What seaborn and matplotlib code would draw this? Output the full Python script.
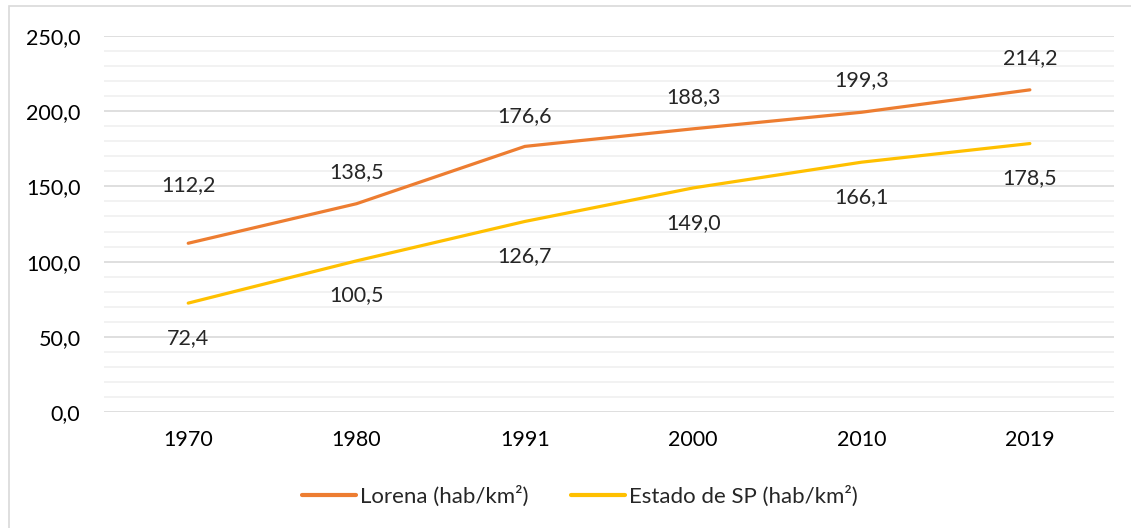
import matplotlib
matplotlib.use('Agg')
from matplotlib import pyplot as plt
from matplotlib.patches import Rectangle
from matplotlib.ticker import MultipleLocator, FuncFormatter
import seaborn as sns
import pandas as pd

# dados
anos = ['1970', '1980', '1991', '2000', '2010', '2019']
lorena = [112.2, 138.5, 176.6, 188.3, 199.3, 214.2]
estado_sp = [72.4, 100.5, 126.7, 149.0, 166.1, 178.5]
series = ['Lorena (hab/km²)', 'Estado de SP (hab/km²)']
cores = ['#ED7D31', '#FFC000']

df = pd.DataFrame({'ano': anos * 2,
                   'valor': lorena + estado_sp,
                   'serie': [series[0]] * len(anos) + [series[1]] * len(anos)})

sns.set_style('white')
plt.rcParams['font.family'] = ['Lato', 'DejaVu Sans']
fs = 15.5

fig = plt.figure(figsize=(11.31, 5.28), dpi=100)
ax = fig.add_axes([0.092, 0.2197, 0.893, 0.7121])

sns.lineplot(data=df, x='ano', y='valor', hue='serie', palette=cores,
             linewidth=2.3, sort=False, ax=ax, legend=True)

ax.set_xlim(-0.5, len(anos) - 0.5)
ax.set_ylim(0, 250)
ax.yaxis.set_major_locator(MultipleLocator(50))
ax.yaxis.set_minor_locator(MultipleLocator(10))
ax.yaxis.set_major_formatter(FuncFormatter(lambda v, p: f'{v:.1f}'.replace('.', ',')))
ax.grid(which='major', axis='y', color='#D9D9D9', linewidth=1.2)
ax.grid(which='minor', axis='y', color='#F0F0F0', linewidth=1.2)
ax.set_axisbelow(True)
for s in ax.spines.values():
    s.set_visible(False)
ax.tick_params(axis='both', which='both', length=0, labelsize=fs, colors='#000000')
ax.tick_params(axis='y', pad=17)
ax.tick_params(axis='x', pad=13)
ax.set_xlabel('')
ax.set_ylabel('')

# rótulos de dados
off_lorena = [42, 23, 22, 23, 23, 23]
for i, v in enumerate(lorena):
    ax.annotate(f'{v:.1f}'.replace('.', ','), (i, v), xytext=(0, off_lorena[i]),
                textcoords='offset points', ha='center', va='center', fontsize=fs)
for i, v in enumerate(estado_sp):
    ax.annotate(f'{v:.1f}'.replace('.', ','), (i, v), xytext=(0, -25),
                textcoords='offset points', ha='center', va='center', fontsize=fs)

handles, labels = ax.get_legend_handles_labels()
for h in handles:
    h.set_linewidth(3)
ax.legend(handles, labels, loc='center', bbox_to_anchor=(0.513, 0.06),
          bbox_transform=fig.transFigure, ncol=2, frameon=False, fontsize=16,
          handlelength=2.4, columnspacing=1.9, handletextpad=0.22)

fig.patches.append(Rectangle((9 / 1131, -0.1), 1.2, 1 - 6 / 528 + 0.1,
                             transform=fig.transFigure, fill=False,
                             edgecolor='#D9D9D9', linewidth=1.2))

fig.savefig('out.png', dpi=100)
